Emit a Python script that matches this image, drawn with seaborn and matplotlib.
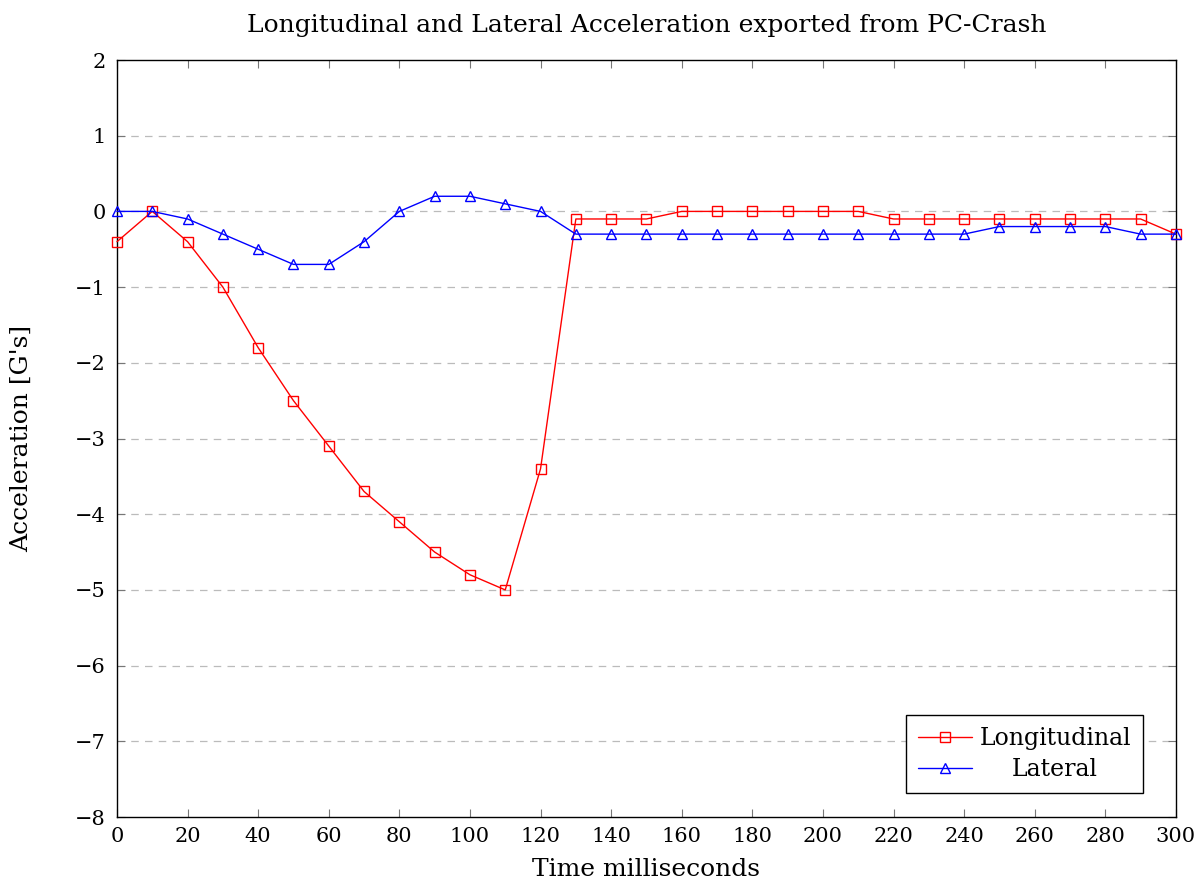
import numpy as np
import pandas as pd
import matplotlib
matplotlib.use("Agg")
import matplotlib.pyplot as plt
import seaborn as sns

time_ms = list(range(0, 301, 10))
longitudinal = [-0.4, 0.0, -0.4, -1.0, -1.8, -2.5, -3.1, -3.7, -4.1, -4.5, -4.8, -5.0, -3.4,
                -0.1, -0.1, -0.1, 0.0, 0.0, 0.0, 0.0, 0.0, 0.0, -0.1, -0.1, -0.1, -0.1, -0.1,
                -0.1, -0.1, -0.1, -0.3]
lateral = [0.0, 0.0, -0.1, -0.3, -0.5, -0.7, -0.7, -0.4, 0.0, 0.2, 0.2, 0.1, 0.0,
           -0.3, -0.3, -0.3, -0.3, -0.3, -0.3, -0.3, -0.3, -0.3, -0.3, -0.3, -0.3, -0.2,
           -0.2, -0.2, -0.2, -0.3, -0.3]
x_ticks = list(range(0, 301, 20))
y_ticks = list(range(-8, 3))

sns.set_theme(style="white")
plt.rcParams['font.family'] = ['DejaVu Serif', 'Liberation Serif']
plt.rcParams['axes.unicode_minus'] = True
plt.rcParams['text.color'] = 'black'
plt.rcParams['axes.labelcolor'] = 'black'

fig = plt.figure(figsize=(12.01, 8.93), dpi=100)
ax = fig.add_axes([0.0974, 0.0851, 0.9791 - 0.0974, 0.9328 - 0.0851])

df = pd.DataFrame({"t": time_ms, "Longitudinal": longitudinal, "Lateral": lateral})

sns.lineplot(data=df, x="t", y="Longitudinal", ax=ax, color="red", lw=1.0,
             marker="s", markersize=7.5, markerfacecolor="none", markeredgecolor="red",
             markeredgewidth=1.0, label="Longitudinal", clip_on=False, zorder=3)
sns.lineplot(data=df, x="t", y="Lateral", ax=ax, color="blue", lw=1.0,
             marker="^", markersize=7.5, markerfacecolor="none", markeredgecolor="blue",
             markeredgewidth=1.0, label="Lateral", clip_on=False, zorder=3)

ax.set_xlim(0, 300)
ax.set_ylim(-8, 2)
ax.set_xticks(x_ticks)
ax.set_yticks(y_ticks)
ax.set_xticklabels([str(v) for v in x_ticks], fontsize=15)
ax.set_yticklabels([str(v).replace('-', '\u2212') for v in y_ticks], fontsize=15)
ax.tick_params(direction="in", length=6, width=0.8, color="#777777", top=True, right=True,
               bottom=True, left=True, labelcolor="black")
ax.tick_params(axis="y", pad=8)
ax.tick_params(axis="x", pad=7)
for y in y_ticks[1:-1]:
    ax.axhline(y, color="#bbbbbb", lw=0.9, ls=(0, (6, 5)), zorder=0)
for s in ax.spines.values():
    s.set_color("black")
    s.set_linewidth(1.0)

ax.set_xlabel("Time milliseconds", fontsize=18, labelpad=9, color="black")
ax.set_ylabel("Acceleration [G's]", fontsize=18, labelpad=30, color="black")
ax.set_title("Longitudinal and Lateral Acceleration exported from PC-Crash", fontsize=18,
             pad=20, color="black")

leg = ax.legend(loc="lower right", bbox_to_anchor=(0.9688, 0.0317), fontsize=17,
                frameon=True, fancybox=False, edgecolor="black", framealpha=1,
                borderpad=0.5, handlelength=2.3, handletextpad=0.3, labelspacing=0.35,
                borderaxespad=0.0)
leg.get_frame().set_linewidth(1.0)

fig.canvas.draw()
renderer = fig.canvas.get_renderer()
texts = leg.get_texts()
widths = [t.get_window_extent(renderer).width for t in texts]
wmax = max(widths)
for t, w in zip(texts, widths):
    t.set_position(((wmax - w) / 2.0, 0))

fig.savefig("out.png", dpi=100)
